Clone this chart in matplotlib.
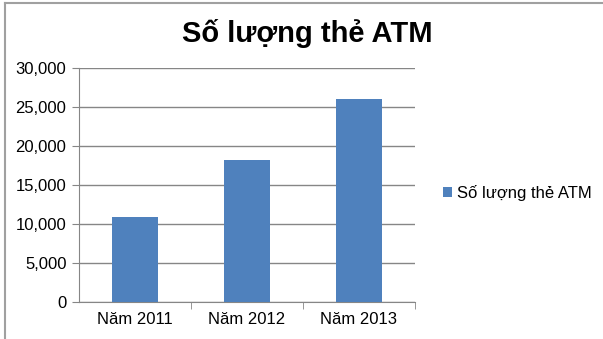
import matplotlib.pyplot as plt
from matplotlib.lines import Line2D
from matplotlib.ticker import FuncFormatter

plt.rcParams['font.family'] = ['Liberation Sans', 'DejaVu Sans']

years = ['Năm 2011', 'Năm 2012', 'Năm 2013']
cards = [10900, 18200, 26000]
series_name = 'Số lượng thẻ ATM'

fig = plt.figure(figsize=(6.03, 3.39), dpi=100)
ax = fig.add_axes([0.131, 0.109, 0.557, 0.690])

x = range(len(years))
ax.bar(x, cards, width=0.41, color='#4F81BD', label=series_name, zorder=3)

ax.set_xlim(-0.5, len(years) - 0.5)
ax.set_ylim(0, 30000)
ax.set_yticks(range(0, 30001, 5000))
ax.yaxis.set_major_formatter(FuncFormatter(lambda v, p: f'{int(v):,}'))
ax.set_xticks(list(x))
ax.set_xticklabels(years)
ax.set_xticks([0.5, 1.5, 2.5], minor=True)
ax.tick_params(axis='x', which='major', length=0, labelsize=12, pad=7)
ax.tick_params(axis='x', which='minor', length=5, color='#868686')
ax.tick_params(axis='y', length=5, color='#868686', labelsize=12, pad=4)

ax.grid(axis='y', color='#868686', linewidth=1, zorder=0)
for side in ['top', 'right']:
    ax.spines[side].set_visible(False)
for side in ['left', 'bottom']:
    ax.spines[side].set_color('#868686')

fig.text(0.509, 0.902, 'Số lượng thẻ ATM', ha='center', va='center',
         fontsize=21, fontweight='bold')

ax.legend(loc='center left', bbox_to_anchor=(1.04, 0.465), frameon=False,
          fontsize=12, handlelength=0.55, handleheight=0.55, handletextpad=0.3)

# outer chart border (left and top edges)
fig.add_artist(Line2D([0.008, 0.008], [0, 0.99], color='#a0a0a0', linewidth=1.5))
fig.add_artist(Line2D([0.008, 1.0], [0.99, 0.99], color='#a0a0a0', linewidth=1.5))

fig.savefig('out.png', dpi=100)
